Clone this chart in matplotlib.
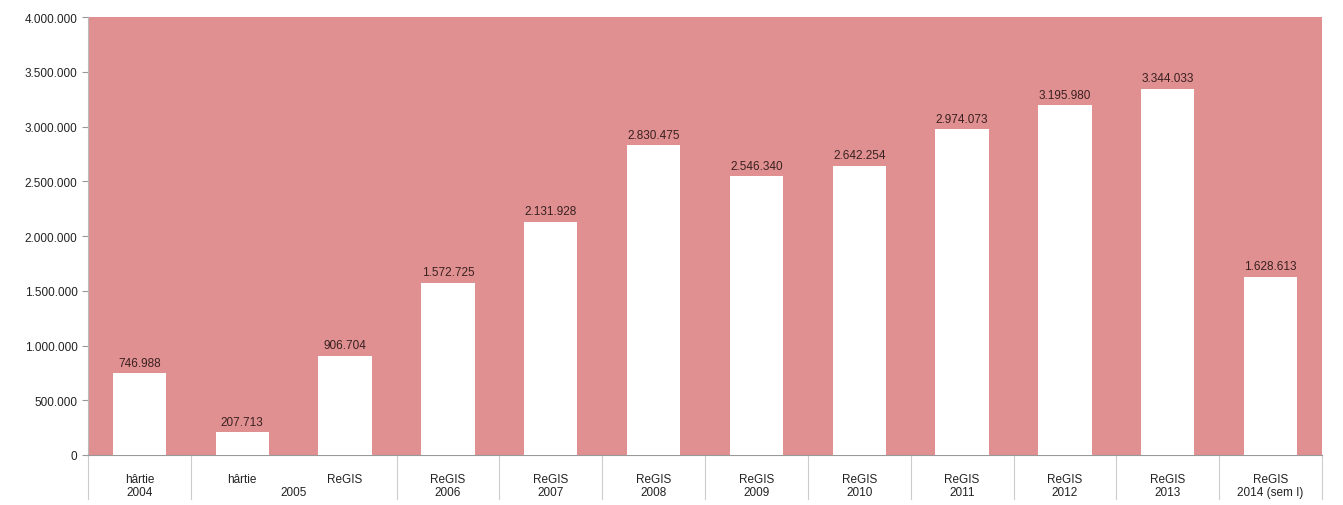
import matplotlib.pyplot as plt
from matplotlib.ticker import FuncFormatter

# categories and values
categories = ['hârtie\n2004', 'hârtie', 'ReGIS', 'ReGIS\n2006', 'ReGIS\n2007', 'ReGIS\n2008',
              'ReGIS\n2009', 'ReGIS\n2010', 'ReGIS\n2011', 'ReGIS\n2012', 'ReGIS\n2013',
              'ReGIS\n2014 (sem I)']
values = [746988, 207713, 906704, 1572725, 2131928, 2830475, 2546340, 2642254,
          2974073, 3195980, 3344033, 1628613]
yticks = [0, 500000, 1000000, 1500000, 2000000, 2500000, 3000000, 3500000, 4000000]


def dots(v, pos=None):
    return f'{int(v):,}'.replace(',', '.')


plt.rcParams['font.family'] = ['Liberation Sans', 'DejaVu Sans']

fig = plt.figure(figsize=(13.43, 5.06), dpi=100)
ax = fig.add_axes([88 / 1343, 50 / 506, 1234 / 1343, 438 / 506])
ax.set_facecolor('#e09090')

x = list(range(len(categories)))
bars = ax.bar(x, values, width=0.52, color='white', zorder=3)
for b, v in zip(bars, values):
    ax.text(b.get_x() + b.get_width() / 2, v + 40000, dots(v), ha='center', va='bottom',
            fontsize=8.5, color='#3a2020', zorder=4)

ax.set_xlim(-0.5, len(categories) - 0.5)
ax.set_ylim(0, 4000000)
ax.set_yticks(yticks)
ax.yaxis.set_major_formatter(FuncFormatter(dots))
ax.tick_params(axis='y', labelsize=8.5, length=4, color='#999999', colors='#222222')

ax.set_xticks(x)
ax.set_xticklabels(categories, fontsize=8.5, color='#222222', linespacing=1.1)
ax.tick_params(axis='x', length=0, pad=13)

# separators between categories below the axis
for i in range(len(categories) + 1):
    if i == 2:
        continue
    ax.plot([i - 0.5, i - 0.5], [0, -0.1], transform=ax.get_xaxis_transform(),
            color='#cccccc', lw=0.8, clip_on=False)
ax.text(1.5, -0.098, '2005', transform=ax.get_xaxis_transform(), ha='center', va='bottom',
        fontsize=8.5, color='#222222')

for s in ['top', 'right']:
    ax.spines[s].set_visible(False)
ax.spines['left'].set_color('#bbbbbb')
ax.spines['bottom'].set_color('#999999')

fig.savefig('out.png', dpi=100)
